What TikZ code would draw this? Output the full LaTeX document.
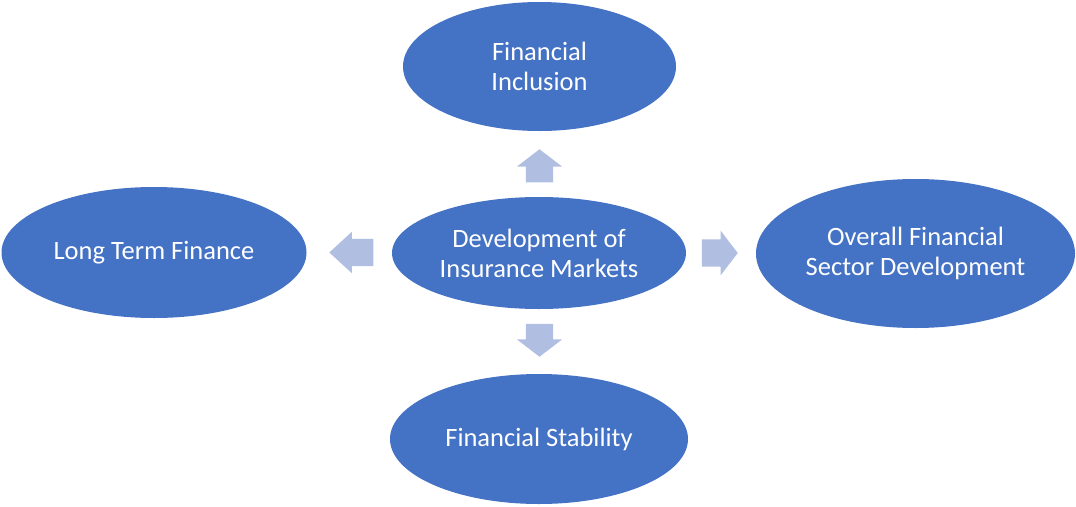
\documentclass[tikz,border=0pt]{standalone}
\usepackage{fontspec}
\setmainfont{Carlito}
\usetikzlibrary{shapes.geometric,shapes.arrows}
\definecolor{ovalblue}{HTML}{4472C4}
\definecolor{arrowblue}{HTML}{B0BEE2}

\begin{document}
\begin{tikzpicture}[
  x=1pt,
  y=-1pt,
  every node/.style={font=\fontsize{26.5}{30}\selectfont},
  oval/.style={ellipse, fill=ovalblue, text=white, inner sep=0pt, align=center},
  blockarrow/.style={single arrow, fill=arrowblue, inner xsep=0pt, inner ysep=13.5pt,
                     single arrow head extend=9pt, single arrow tip angle=105,
                     single arrow head indent=0pt, anchor=tip}
]
  % ---- page frame ----
  \useasboundingbox (0,0) rectangle (1076,506);

  % ---- the five ovals ----
  \node[oval, minimum width=273pt, minimum height=129pt] (inclusion) at (539.5,66.5)
    {Financial\\Inclusion};
  \node[oval, minimum width=305pt, minimum height=131pt] (longterm) at (154,252.5)
    {Long Term Finance};
  \node[oval, minimum width=294pt, minimum height=112pt] (insurance) at (539,253)
    {Development of\\Insurance Markets};
  \node[oval, minimum width=319pt, minimum height=149pt] (overall) at (915.5,253.5)
    {Overall Financial\\Sector Development};
  \node[oval, minimum width=298pt, minimum height=130pt] (stability) at (539,439)
    {Financial Stability};

  % ---- block arrows pointing outwards from the centre, placed by their tips ----
  \node[blockarrow, minimum height=33pt, rotate=90] (uparrow) at (539.5,149) {};
  \node[blockarrow, minimum height=44pt, rotate=180, single arrow head extend=7pt,
        single arrow tip angle=85] (leftarrow) at (329,252.5) {};
  \node[blockarrow, minimum height=36pt, single arrow head extend=8.5pt] (rightarrow)
    at (738,253) {};
  \node[blockarrow, minimum height=33pt, rotate=270] (downarrow) at (539.5,357) {};
\end{tikzpicture}
\end{document}
